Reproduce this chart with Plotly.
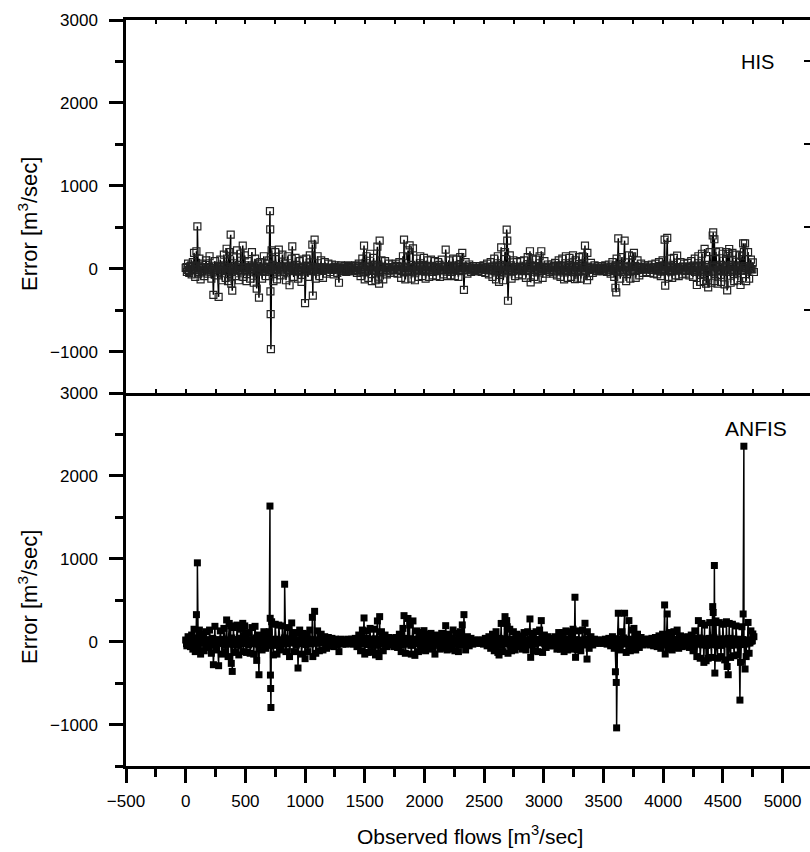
import plotly.graph_objects as go

# ---------------- data ----------------
# Observed flows [m3/sec] for the scattered / larger-error observations
observed = [
    0, 10, 20, 30, 40, 50, 60, 70, 80, 90, 98, 105, 115, 125, 140, 155, 170, 185, 200, 215,
    232, 245, 260, 276, 290, 305, 320, 335, 343, 355, 365, 377, 382, 390, 400, 415, 430, 445, 460, 478,
    483, 495, 510, 525, 540, 555, 570, 581, 595, 605, 614, 625, 640, 655, 670, 685, 700, 706, 708, 710,
    712, 714, 720, 735, 750, 765, 780, 795, 810, 829, 840, 855, 870, 888, 893, 905, 920, 941, 955, 970,
    985, 1000, 1010, 1025, 1040, 1061, 1065, 1080, 1090, 1105, 1120, 1135, 1150, 1165, 1180, 1195, 1210, 1225, 1240, 1255,
    1270, 1284, 1300, 1315, 1330, 1345, 1360, 1375, 1390, 1405, 1420, 1435, 1450, 1465, 1480, 1494, 1500, 1515, 1530, 1545,
    1560, 1575, 1590, 1606, 1613, 1620, 1625, 1640, 1655, 1670, 1685, 1700, 1715, 1730, 1745, 1760, 1775, 1790, 1805, 1820,
    1829, 1840, 1862, 1876, 1890, 1904, 1920, 1935, 1950, 1965, 1980, 1996, 2010, 2025, 2040, 2055, 2070, 2088, 2100, 2115,
    2130, 2145, 2160, 2178, 2190, 2205, 2220, 2240, 2255, 2270, 2285, 2300, 2317, 2331, 2345, 2360, 2375, 2390, 2405, 2420,
    2435, 2450, 2465, 2480, 2495, 2510, 2525, 2540, 2555, 2570, 2585, 2600, 2615, 2625, 2643, 2660, 2675, 2689, 2694, 2700,
    2715, 2730, 2745, 2760, 2775, 2790, 2805, 2820, 2835, 2850, 2865, 2884, 2890, 2905, 2920, 2935, 2950, 2965, 2979, 2990,
    3005, 3020, 3035, 3050, 3065, 3080, 3095, 3110, 3125, 3140, 3155, 3170, 3185, 3200, 3215, 3230, 3245, 3261, 3266, 3280,
    3295, 3310, 3325, 3345, 3362, 3365, 3380, 3395, 3410, 3425, 3440, 3455, 3470, 3485, 3500, 3515, 3530, 3545, 3560, 3575,
    3590, 3600, 3607, 3610, 3624, 3640, 3655, 3677, 3690, 3713, 3725, 3740, 3755, 3770, 3785, 3800, 3815, 3830, 3845, 3860,
    3875, 3890, 3905, 3920, 3935, 3950, 3965, 3980, 3995, 4012, 4017, 4034, 4045, 4060, 4075, 4090, 4105, 4117, 4130, 4145,
    4160, 4175, 4190, 4205, 4220, 4235, 4250, 4265, 4282, 4295, 4310, 4325, 4341, 4347, 4360, 4377, 4390, 4405, 4415, 4419,
    4429, 4433, 4442, 4455, 4470, 4485, 4500, 4515, 4530, 4536, 4545, 4553, 4565, 4580, 4595, 4610, 4625, 4643, 4648, 4660,
    4670, 4676, 4686, 4695, 4711, 4720, 4735, 4751, 4760,
]

# HIS model error [m3/sec] at those flows
err_his = [
    10, -40, 60, -50, 30, -70, 80, 190, -100, 210, 511, -60, 120, -130, 60, -90, 100, -60, 150, -120,
    -315, 90, -80, -340, 110, -140, 170, -110, 240, -150, 200, 410, -180, -265, 150, -90, 220, -140, 180, 278,
    -100, 160, -150, 90, -120, 200, -170, 120, -240, 60, -350, 80, -120, 150, -90, 60, 100, 693, 475, -275,
    -548, -971, 220, -150, 200, -130, 230, -80, 170, 60, -140, 150, -200, 120, 270, -100, 130, -120, 90, -160,
    110, -415, 120, -100, 160, 290, -326, 350, -120, 150, -90, 100, -110, 80, -60, 60, -40, 50, -70, 40,
    -50, -170, 40, -30, 30, -40, 40, -30, 30, -30, 40, -50, 60, -90, 120, 278, -130, 150, -110, 180,
    -150, 130, -140, 265, -120, -180, 338, 100, -130, 90, -70, 60, -50, 50, -50, 60, -60, 80, -110, 150,
    350, -130, 220, 280, -120, 245, -140, 120, -100, 150, -90, 130, -120, 100, -100, 110, -80, 90, -90, 80,
    -100, 110, -70, 230, -90, 100, -80, 120, -90, 110, -100, 140, 190, -255, 80, -60, 50, -40, 30, -30,
    30, -30, 30, -40, 40, -50, 60, -70, 80, -100, 120, -130, 150, -160, 258, -140, 200, 472, 338, -387,
    160, -120, 100, -90, 80, -70, 90, -80, 100, -110, 140, 210, -165, 120, -100, 110, -130, 150, 210, -110,
    90, -60, 50, -40, 50, -60, 70, -80, 100, -100, 120, -130, 150, -110, 130, -100, 160, -125, 100, -120,
    140, -120, 150, 278, -140, 190, -90, 70, -50, 40, -30, 30, -30, 30, -30, 40, -40, 50, -60, 80,
    -100, -230, -286, 120, 366, -120, 140, 338, -150, 160, -120, 150, 190, -110, 100, -80, 60, -50, 40, -40,
    40, -50, 50, -60, 60, -70, 80, -90, 100, 350, -205, 371, -100, 120, -110, 130, -80, 157, -90, 80,
    -70, 60, -60, 70, -80, 90, -100, 120, -197, 150, -160, 180, -150, 238, -180, -226, 200, -170, 400, 439,
    355, -150, 200, -180, 210, -160, 180, -190, 200, -262, 180, 237, -170, 190, -150, 170, -140, 160, -197, 150,
    306, 200, 306, -150, 200, -120, 110, 76, -40,
]

# ANFIS model error [m3/sec] at those flows
err_anfis = [
    20, -50, 60, 40, -60, 80, -90, 150, -120, 326, 951, -80, 140, -150, 90, -110, 120, -70, 140, -140,
    -278, 185, -100, -290, 130, -150, 160, -120, 262, -180, 220, 190, -262, -359, 170, -130, 200, -160, 150, 221,
    -120, 190, -130, 110, -140, 170, -150, 185, -226, 80, -399, 60, -100, 120, -80, 50, 120, 1636, 282, -403,
    -565, -794, 240, -160, 210, -150, 200, -100, 190, 693, -120, 170, -180, 226, 100, -120, 110, -318, 140, -150,
    100, -205, 90, -120, 140, 294, -180, 366, -140, 130, -110, 90, -100, 60, -80, 50, -50, 40, -60, 30,
    -40, -120, 30, -30, 20, -30, 30, -20, 30, -30, 40, -60, 80, -110, 140, 286, -150, 130, -130, 160,
    -120, 150, -160, 250, -140, -180, 302, 120, -110, 80, -60, 50, -40, 40, -60, 50, -70, 90, -120, 160,
    314, -140, 280, 200, -150, 250, -165, 130, -120, 110, -100, 133, -110, 90, -90, 100, -70, -150, 80, 70,
    -90, 100, -80, 193, -100, 90, -90, 141, -110, 100, -120, 120, 202, 326, -100, 60, -50, 40, -30, 20,
    -20, 20, -20, 20, -30, 40, -50, 60, -80, 90, -110, 120, -130, -161, 220, -120, 302, 254, 180, -140,
    150, -110, 120, -100, 90, -60, 70, -90, 110, -100, 120, 274, -189, 100, -110, 120, -120, 140, 254, -130,
    80, -70, 60, -50, 40, -50, 60, -90, 110, -90, 110, -120, 130, -100, 120, -90, 150, 536, -189, -100,
    130, -110, 140, 222, -210, 120, -80, 60, -40, 30, -20, 20, -20, 20, -20, 30, -30, 40, -50, 60,
    -80, -363, -492, -1040, 343, -100, 120, 343, -130, 254, -110, 140, 160, -100, 90, -70, 50, -40, 30, -30,
    30, -40, 40, -50, 50, -60, 70, -80, 90, 443, -149, 334, -90, 110, -100, 120, -70, 140, -80, 70,
    -60, 50, -50, 60, -70, 80, -110, 130, -180, 254, -200, 220, -250, 200, -230, -200, 230, -190, 423, 352,
    919, -379, 250, -200, 230, -180, 210, -220, 240, -300, -399, 220, -190, 210, -170, 190, -160, -705, -250, 180,
    334, 2358, -330, -180, 232, -140, 130, 93, 60,
]

# Observed flows [m3/sec] of the many small-error observations (dense band around zero)
observed_band = [
    7, 27, 47, 67, 87, 107, 127, 147, 167, 187, 207, 227, 247, 267, 287, 307, 327, 347, 367, 387,
    407, 427, 447, 467, 487, 507, 527, 547, 567, 587, 607, 627, 647, 667, 687, 707, 727, 747, 767, 787,
    807, 827, 847, 867, 887, 907, 927, 947, 967, 987, 1007, 1027, 1047, 1067, 1087, 1107, 1127, 1147, 1167, 1187,
    1207, 1227, 1247, 1267, 1287, 1307, 1327, 1347, 1367, 1387, 1407, 1427, 1447, 1467, 1487, 1507, 1527, 1547, 1567, 1587,
    1607, 1627, 1647, 1667, 1687, 1707, 1727, 1747, 1767, 1787, 1807, 1827, 1847, 1867, 1887, 1907, 1927, 1947, 1967, 1987,
    2007, 2027, 2047, 2067, 2087, 2107, 2127, 2147, 2167, 2187, 2207, 2227, 2247, 2267, 2287, 2307, 2327, 2347, 2367, 2387,
    2407, 2427, 2447, 2467, 2487, 2507, 2527, 2547, 2567, 2587, 2607, 2627, 2647, 2667, 2687, 2707, 2727, 2747, 2767, 2787,
    2807, 2827, 2847, 2867, 2887, 2907, 2927, 2947, 2967, 2987, 3007, 3027, 3047, 3067, 3087, 3107, 3127, 3147, 3167, 3187,
    3207, 3227, 3247, 3267, 3287, 3307, 3327, 3347, 3367, 3387, 3407, 3427, 3447, 3467, 3487, 3507, 3527, 3547, 3567, 3587,
    3607, 3627, 3647, 3667, 3687, 3707, 3727, 3747, 3767, 3787, 3807, 3827, 3847, 3867, 3887, 3907, 3927, 3947, 3967, 3987,
    4007, 4027, 4047, 4067, 4087, 4107, 4127, 4147, 4167, 4187, 4207, 4227, 4247, 4267, 4287, 4307, 4327, 4347, 4367, 4387,
    4407, 4427, 4447, 4467, 4487, 4507, 4527, 4547, 4567, 4587, 4607, 4627, 4647, 4667, 4687, 4707, 4727, 4747,
]

err_his_band = [
    20, -30, 40, -10, 30, -40, 15, -25, 45, -35, 10, -20, 35, -45, 25, -15, 40, -30, 5, -40,
    30, -20, 45, -35, 15, -25, 40, -10, 20, -45, 35, -30, 10, -40, 25, -20, 45, -15, 30, -35,
    20, -40, 35, -25, 10, -30, 40, -20, 15, -35, 30, -10, 25, -30, 20, -15, 10, -20, 15, -10,
    10, -15, 20, -10, 15, -20, 10, -15, 20, -10, 25, -20, 30, -35, 20, -40, 35, -25, 45, -30,
    40, -35, 25, -20, 15, -25, 20, -15, 30, -20, 35, -40, 25, -30, 45, -35, 20, -25, 40, -30,
    30, -25, 35, -40, 20, -30, 45, -20, 25, -35, 30, -40, 15, -25, 40, -30, 35, -20, 15, -10,
    10, -15, 10, -10, 15, -15, 20, -20, 25, -30, 35, -40, 45, -35, 30, -25, 40, -30, 20, -15,
    25, -30, 35, -20, 40, -35, 30, -25, 15, -10, 20, -15, 25, -20, 30, -35, 40, -25, 35, -30,
    20, -40, 35, -25, 30, -20, 40, -30, 25, -15, 15, -10, 10, -15, 10, -10, 15, -20, 25, -30,
    40, -35, 30, -45, 25, -30, 35, -20, 30, -15, 20, -10, 15, -10, 15, -15, 20, -25, 30, -35,
    40, -30, 25, -35, 20, -25, 15, -20, 25, -30, 20, -25, 35, -40, 30, -45, 40, -35, 45, -40,
    35, -45, 40, -30, 45, -35, 30, -40, 45, -35, 40, -30, 35, -25, 30, -20, 15, -10,
]

err_anfis_band = [
    -25, 35, -40, 20, -30, 45, -15, 30, -45, 25, -10, 40, -35, 15, -20, 30, -40, 10, -30, 45,
    -35, 25, -45, 40, -15, 30, -40, 20, -25, 45, -30, 35, -20, 40, -25, 15, -45, 30, -35, 20,
    -30, 45, -25, 35, -15, 30, -40, 25, -20, 40, -35, 15, -30, 25, -20, 15, -15, 20, -10, 15,
    -10, 15, -20, 10, -15, 20, -10, 15, -20, 15, -25, 20, -30, 35, -25, 40, -35, 30, -45, 35,
    -40, 30, -25, 20, -20, 25, -15, 20, -30, 25, -35, 40, -30, 35, -45, 30, -25, 30, -40, 35,
    -30, 25, -35, 40, -25, 30, -45, 20, -30, 35, -35, 40, -20, 25, -40, 30, -35, 20, -15, 10,
    -10, 10, -10, 10, -15, 15, -20, 20, -25, 30, -35, 40, -45, 35, -30, 25, -40, 30, -20, 15,
    -25, 30, -35, 20, -40, 35, -30, 25, -15, 10, -20, 15, -25, 20, -30, 35, -40, 25, -35, 30,
    -20, 40, -35, 25, -30, 20, -40, 30, -25, 15, -15, 10, -10, 10, -10, 10, -15, 20, -25, 30,
    -40, 35, -30, 45, -25, 30, -35, 20, -30, 15, -20, 10, -15, 10, -15, 15, -20, 25, -30, 35,
    -40, 30, -25, 35, -20, 25, -15, 20, -25, 30, -20, 25, -35, 40, -30, 45, -40, 35, -45, 40,
    -35, 45, -40, 30, -45, 35, -30, 40, -45, 35, -40, 30, -35, 25, -30, 20, -15, 10,
]

# second set of small-error observations
observed_band2 = [
    17, 37, 57, 77, 97, 117, 137, 157, 177, 197, 217, 237, 257, 277, 297, 317, 337, 357, 377, 397,
    417, 437, 457, 477, 497, 517, 537, 557, 577, 597, 617, 637, 657, 677, 697, 717, 737, 757, 777, 797,
    817, 837, 857, 877, 897, 917, 937, 957, 977, 997, 1017, 1037, 1057, 1077, 1097, 1117, 1137, 1157, 1177, 1197,
    1217, 1237, 1257, 1277, 1297, 1317, 1337, 1357, 1377, 1397, 1417, 1437, 1457, 1477, 1497, 1517, 1537, 1557, 1577, 1597,
    1617, 1637, 1657, 1677, 1697, 1717, 1737, 1757, 1777, 1797, 1817, 1837, 1857, 1877, 1897, 1917, 1937, 1957, 1977, 1997,
    2017, 2037, 2057, 2077, 2097, 2117, 2137, 2157, 2177, 2197, 2217, 2237, 2257, 2277, 2297, 2317, 2337, 2357, 2377, 2397,
    2417, 2437, 2457, 2477, 2497, 2517, 2537, 2557, 2577, 2597, 2617, 2637, 2657, 2677, 2697, 2717, 2737, 2757, 2777, 2797,
    2817, 2837, 2857, 2877, 2897, 2917, 2937, 2957, 2977, 2997, 3017, 3037, 3057, 3077, 3097, 3117, 3137, 3157, 3177, 3197,
    3217, 3237, 3257, 3277, 3297, 3317, 3337, 3357, 3377, 3397, 3417, 3437, 3457, 3477, 3497, 3517, 3537, 3557, 3577, 3597,
    3617, 3637, 3657, 3677, 3697, 3717, 3737, 3757, 3777, 3797, 3817, 3837, 3857, 3877, 3897, 3917, 3937, 3957, 3977, 3997,
    4017, 4037, 4057, 4077, 4097, 4117, 4137, 4157, 4177, 4197, 4217, 4237, 4257, 4277, 4297, 4317, 4337, 4357, 4377, 4397,
    4417, 4437, 4457, 4477, 4497, 4517, 4537, 4557, 4577, 4597, 4617, 4637, 4657, 4677, 4697, 4717, 4737,
]

err_his_band2 = [
    -15, 20, -5, 25, -20, 10, -25, 15, -10, 20, -15, 5, -20, 25, -10, 15, -25, 20, -5, 10,
    -20, 15, -25, 10, -15, 20, -5, 25, -10, 15, -20, 5, -25, 20, -15, 10, -5, 25, -20, 15,
    -10, 25, -15, 20, -5, 15, -20, 10, -25, 5, -15, 20, -10, 15, -5, 10, -10, 5, -5, 10,
    -5, 10, -10, 5, -10, 5, -5, 10, -10, 5, -15, 10, -20, 15, -10, 20, -25, 15, -20, 25,
    -25, 20, -15, 10, -20, 15, -10, 25, -15, 20, -25, 15, -20, 10, -25, 20, -15, 25, -10, 20,
    -15, 25, -20, 10, -25, 15, -10, 20, -15, 25, -20, 15, -10, 20, -25, 10, -15, 20, -10, 5,
    -5, 5, -5, 10, -10, 5, -10, 15, -15, 20, -20, 25, -15, 20, -25, 10, -20, 15, -10, 20,
    -20, 15, -25, 10, -15, 20, -10, 25, -5, 10, -15, 10, -20, 15, -25, 20, -15, 25, -20, 10,
    -15, 25, -20, 10, -25, 15, -20, 10, -15, 5, -10, 5, -5, 10, -5, 5, -10, 15, -20, 15,
    -25, 20, -15, 25, -20, 15, -10, 20, -15, 10, -10, 5, -5, 10, -10, 5, -15, 10, -20, 25,
    -20, 15, -25, 10, -15, 20, -10, 15, -20, 25, -15, 20, -25, 15, -20, 25, -15, 20, -25, 20,
    -25, 20, -15, 25, -20, 15, -25, 20, -15, 25, -20, 15, -25, 10, -15, 10, -5,
]

err_anfis_band2 = [
    15, -20, 10, -25, 20, -5, 25, -15, 5, -20, 15, -10, 25, -20, 10, -15, 20, -25, 15, -5,
    20, -15, 5, -25, 15, -10, 25, -20, 10, -15, 20, -5, 25, -15, 10, -20, 15, -25, 5, -10,
    20, -25, 15, -10, 20, -15, 5, -20, 25, -10, 15, -20, 10, -15, 10, -5, 10, -10, 5, -5,
    10, -5, 5, -10, 10, -5, 10, -10, 5, -10, 15, -10, 20, -15, 10, -20, 25, -15, 20, -25,
    20, -25, 15, -10, 20, -15, 25, -10, 15, -20, 25, -15, 10, -20, 25, -15, 20, -25, 10, -20,
    25, -15, 10, -20, 15, -25, 20, -10, 25, -15, 15, -20, 20, -10, 10, -25, 20, -15, 5, -10,
    5, -5, 10, -5, 5, -10, 15, -10, 20, -15, 25, -20, 20, -15, 10, -25, 15, -20, 20, -10,
    15, -20, 10, -25, 20, -15, 25, -10, 10, -5, 10, -15, 15, -20, 20, -25, 25, -15, 10, -20,
    25, -15, 10, -20, 15, -25, 10, -20, 5, -15, 5, -10, 10, -5, 5, -5, 15, -10, 15, -20,
    20, -25, 25, -15, 15, -20, 20, -10, 10, -15, 5, -10, 10, -5, 5, -10, 10, -15, 25, -20,
    15, -20, 10, -25, 20, -15, 15, -10, 25, -20, 20, -15, 15, -25, 25, -20, 20, -15, 20, -25,
    20, -25, 25, -15, 15, -20, 20, -25, 25, -15, 15, -20, 10, -25, 10, -15, 5,
]

for name, a, b in [("main his", observed, err_his), ("main anfis", observed, err_anfis),
                   ("band his", observed_band, err_his_band), ("band anfis", observed_band, err_anfis_band),
                   ("band2 his", observed_band2, err_his_band2), ("band2 anfis", observed_band2, err_anfis_band2)]:
    if len(a) != len(b):
        raise ValueError(f"{name} lengths {len(a)} vs {len(b)}")

# merge all observations, sorted by observed flow
rows = sorted(zip(observed + observed_band + observed_band2,
                  err_his + err_his_band + err_his_band2,
                  err_anfis + err_anfis_band + err_anfis_band2),
              key=lambda r: r[0])
flows = [r[0] for r in rows]
his = [r[1] for r in rows]
anfis = [r[2] for r in rows]

x_ticks = [-500, 0, 500, 1000, 1500, 2000, 2500, 3000, 3500, 4000, 4500, 5000]
y_ticks = [-1000, 0, 1000, 2000, 3000]
y_range = [-1500, 3000]
x_range = [-500, 5230]

FONT = "Liberation Sans, Arial, sans-serif"

fig = go.Figure()

fig.add_trace(go.Scatter(
    x=flows, y=his, mode="lines+markers", name="HIS",
    line=dict(color="black", width=1.5),
    marker=dict(symbol="square-open", size=7, color="#222222", line=dict(color="#222222", width=1.2)),
    xaxis="x2", yaxis="y2", showlegend=False,
))
fig.add_trace(go.Scatter(
    x=flows, y=anfis, mode="lines+markers", name="ANFIS",
    line=dict(color="black", width=1.5),
    marker=dict(symbol="square", size=7, color="black", line=dict(color="black", width=0)),
    xaxis="x", yaxis="y", showlegend=False,
))
fig.add_trace(go.Scatter(x=[None], y=[None], xaxis="x2", yaxis="y3", showlegend=False, hoverinfo="skip"))


def axis_common(**kw):
    d = dict(
        showgrid=False, zeroline=False, showline=True, linecolor="black", linewidth=2.5,
        ticks="outside", tickcolor="black", tickwidth=2.5, ticklen=14,
        tickfont=dict(family=FONT, size=17, color="black"),
    )
    d.update(kw)
    return d


minor_y = dict(ticks="outside", ticklen=8, tickwidth=2.5, tickcolor="black", dtick=500, tick0=-500)

fig.update_layout(
    width=810, height=852,
    margin=dict(l=126, r=0, t=20, b=86),
    paper_bgcolor="white", plot_bgcolor="white",
    font=dict(family=FONT, color="black"),
    xaxis=axis_common(
        range=x_range, tickvals=x_ticks, anchor="y", domain=[0, 1], mirror=False,
        minor=dict(ticks="outside", ticklen=8, tickwidth=2.5, tickcolor="black", dtick=250, tick0=-250),
        ticklabelstandoff=4,
    ),
    xaxis2=axis_common(
        range=x_range, tickvals=x_ticks, anchor="y2", domain=[0, 1],
        matches="x", showticklabels=False, mirror="allticks", ticks="inside", ticklen=4, tickwidth=2,
        minor=dict(ticks="inside", ticklen=4, tickwidth=2, tickcolor="black", dtick=250, tick0=-250),
    ),
    yaxis=axis_common(
        range=y_range, tickvals=y_ticks, domain=[0, 0.5], anchor="x", minor=minor_y,
        ticklabelstandoff=8,
    ),
    yaxis2=axis_common(
        range=y_range, tickvals=y_ticks, domain=[0.5, 1], anchor="x2", minor=minor_y,
        ticklabelstandoff=8,
    ),
    yaxis3=dict(
        overlaying="y2", side="right", anchor="x2", range=y_range,
        tickvals=[-500, 500, 1500, 2500], ticks="inside", ticklen=6, tickwidth=2,
        tickcolor="black", showticklabels=False, showline=False, showgrid=False, zeroline=False,
    ),
    annotations=[
        dict(text="HIS", x=4790, y=2490, xref="x2", yref="y2", showarrow=False,
             font=dict(family=FONT, size=20, color="black")),
        dict(text="ANFIS", x=4774, y=2575, xref="x", yref="y", showarrow=False,
             font=dict(family=FONT, size=21, color="black")),
        dict(text="Error [m<sup>3</sup>/sec]", textangle=-90, x=-0.1433, y=0.7265,
             xref="paper", yref="paper", xanchor="center", yanchor="middle", showarrow=False,
             font=dict(family=FONT, size=22, color="black")),
        dict(text="Error [m<sup>3</sup>/sec]", textangle=-90, x=-0.1433, y=0.2265,
             xref="paper", yref="paper", xanchor="center", yanchor="middle", showarrow=False,
             font=dict(family=FONT, size=22, color="black")),
        dict(text="Observed flows [m<sup>3</sup>/sec]", x=0.503, y=-0.1125,
             xref="paper", yref="paper", xanchor="center", yanchor="bottom", showarrow=False,
             font=dict(family=FONT, size=21, color="black")),
    ],
)

fig.write_html("out.html")
